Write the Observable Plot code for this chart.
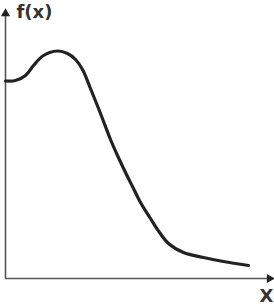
<!DOCTYPE html>
<html>
<head>
<meta charset="utf-8">
<script src="https://cdn.jsdelivr.net/npm/d3@7"></script>
<script src="https://cdn.jsdelivr.net/npm/@observablehq/plot@0.6"></script>
<style>
  html, body { margin: 0; padding: 0; background: #fff; }
  #chart svg { display: block; }
</style>
</head>
<body>
<div id="chart"></div>
<script>
// Curve samples (x, f(x)) in abstract units
const xs = [0, 10, 20, 28, 38, 52, 62, 70, 77, 85, 95, 105, 112, 120, 128, 135, 145, 152, 163, 178, 198, 218, 243];
const fx = [197.5, 198, 203, 213, 223, 227.5, 225, 219, 209, 190, 165, 139, 123, 106, 90, 76, 60, 49, 35, 26, 21, 17, 13];
const xLabel = "X";
const yLabel = "f(x)";
const xMax = 267;
const yMax = 268;

const curve = xs.map((x, i) => ({x, y: fx[i]}));
const axisColor = "#555";
const ink = "#222";

const chart = Plot.plot({
  width: 274,
  height: 307,
  marginLeft: 5,
  marginRight: 2,
  marginTop: 10,
  marginBottom: 29,
  x: {domain: [0, xMax], axis: null},
  y: {domain: [0, yMax], axis: null},
  style: {background: "#fff", fontFamily: "DejaVu Sans"},
  marks: [
    Plot.ruleX([0], {y1: 0, y2: yMax - 2, stroke: axisColor, strokeWidth: 1.6}),
    Plot.ruleY([0], {x1: 0, x2: xMax - 2, stroke: axisColor, strokeWidth: 1.6}),
    Plot.dot([{x: 0, y: yMax - 3}], {x: "x", y: "y", symbol: "triangle", r: 3.4, fill: ink, stroke: null}),
    Plot.dot([{x: xMax - 3, y: 0}], {x: "x", y: "y", symbol: "triangle", r: 3.4, rotate: 90, fill: ink, stroke: null}),
    Plot.line(curve, {x: "x", y: "y", curve: "catmull-rom", stroke: ink, strokeWidth: 3.2, strokeLinecap: "round"}),
    Plot.text([yLabel], {frameAnchor: "top-left", text: d => d, dx: 11, dy: -5, textAnchor: "start", lineAnchor: "top", fontSize: 18, fontWeight: "bold", fill: "#333"}),
    Plot.text([xLabel], {frameAnchor: "bottom-right", text: d => d, dx: 1, dy: 11, textAnchor: "end", lineAnchor: "top", fontSize: 18, fontWeight: "bold", fill: "#333"})
  ]
});
document.getElementById("chart").appendChild(chart);
</script>
</body>
</html>
